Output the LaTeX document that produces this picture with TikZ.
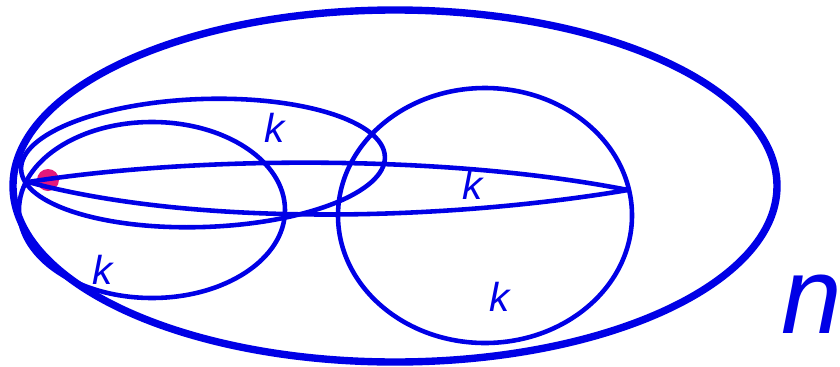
\documentclass[tikz,border=0pt]{standalone}
\usepackage{fontspec}
\setmainfont{Liberation Sans}
\definecolor{setblue}{HTML}{0000E6}
\definecolor{pointpink}{HTML}{E6197A}
\tikzset{
  outerset/.style={draw=setblue, line width=4.2pt},
  subset/.style={draw=setblue, line width=2.6pt},
  klabel/.style={text=setblue, inner sep=0pt, font=\fontsize{23}{28}\selectfont\itshape},
  nlabel/.style={text=setblue, inner sep=0pt, anchor=base west, font=\fontsize{62}{66}\selectfont\itshape}
}

\begin{document}
\begin{tikzpicture}
\useasboundingbox (0,0) rectangle (16.8,7.32);
\fill[white] (0,0) rectangle (16.8,7.32);

% the marked point
\fill[pointpink] (0.96,3.72) circle (0.22);

\coordinate (tipL) at (0.56,3.68);
\coordinate (tipR) at (12.56,3.52);

% the whole set
\draw[outerset] (7.90,3.60) ellipse [x radius=7.64, y radius=3.52];

% the k-subsets
\draw[subset] (4.06,4.06) ellipse [x radius=3.64, y radius=1.28, rotate=2];
\draw[subset] (3.04,3.12) ellipse [x radius=2.66, y radius=1.76];
\draw[subset] (9.70,3.01) ellipse [x radius=2.94, y radius=2.55];
\draw[subset] (tipL) .. controls (4.0,4.22) and (9.0,4.22) .. (tipR);
\draw[subset] (tipL) .. controls (4.0,2.76) and (9.0,2.92) .. (tipR);

\node[klabel] (kTop) at (5.50,4.76) {k};
\node[klabel] (kLens) at (9.46,3.62) {k};
\node[klabel] (kLeft) at (2.06,1.92) {k};
\node[klabel] (kRight) at (10.0,1.38) {k};
\node[nlabel] (nAll) at (15.62,0.66) {n};

\end{tikzpicture}
\end{document}
